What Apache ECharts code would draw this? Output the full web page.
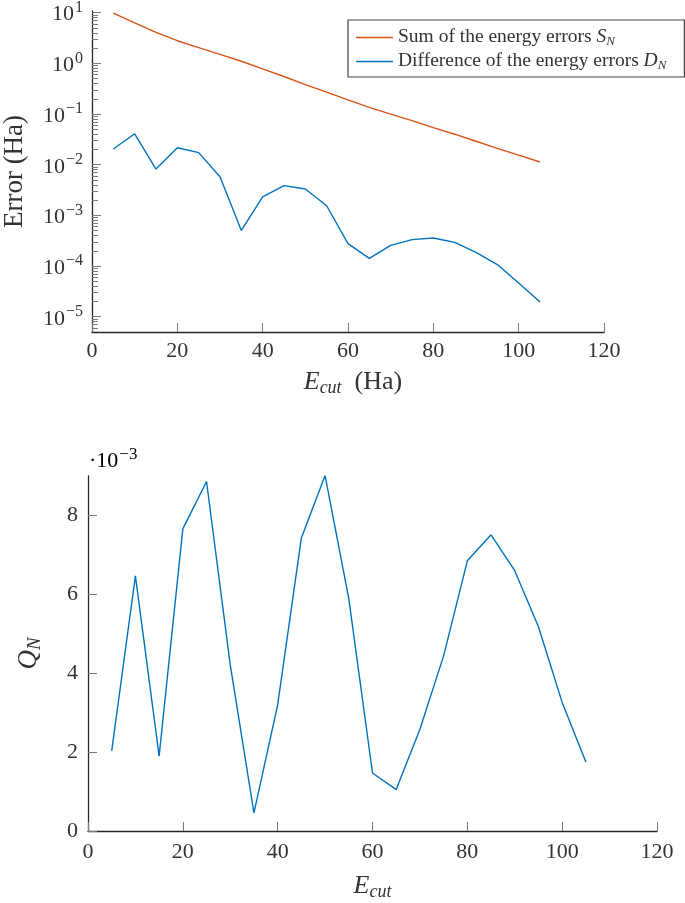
<!DOCTYPE html>
<html><head><meta charset="utf-8">
<script src="https://cdn.jsdelivr.net/npm/echarts@6/dist/echarts.min.js"></script>
<style>html,body{margin:0;padding:0;background:#fff}#c{width:685px;height:903px}</style>
</head><body><div id="c"></div>
<script>
// ---- data ----
const ecut = [5,10,15,20,25,30,35,40,45,50,55,60,65,70,75,80,85,90,95,100,105];
const sumErr = [9.8,6.3,4.1,2.8,2.05,1.5,1.1,0.78,0.55,0.38,0.27,0.19,0.135,0.10,0.074,0.054,0.040,0.029,0.021,0.0155,0.0113];
const diffErr = [0.0204,0.0408,0.0082,0.0216,0.0173,0.0058,0.000506,0.00231,0.00386,0.00332,0.00155,0.000277,0.000142,0.000256,0.000332,0.000358,0.000293,0.000186,0.000107,0.0000465,0.0000196];
const qN = [0.00203,0.00647,0.00190,0.00766,0.00886,0.00421,0.00046,0.00320,0.00743,0.00901,0.00589,0.00147,0.00105,0.00258,0.00444,0.00685,0.00751,0.00660,0.00518,0.00326,0.00175];
const logTicks = [1e-5,1e-4,1e-3,1e-2,1e-1,1,10];
const qTicks = [0,0.002,0.004,0.006,0.008];
const seriesNames = ['Sum of the energy errors S_N','Difference of the energy errors D_N'];

// ---- styling ----
const serif = 'Liberation Serif';
const txt = '#333333';
const orange = '#D95319', blue = '#0072BD';
const yMin = 5e-6, yMax = 10.8;
const minorTicks = [];
for (let e = -6; e <= 1; e++) {
  for (let m = 2; m <= 9; m++) {
    const v = m * Math.pow(10, e);
    if (v >= yMin && v <= yMax) minorTicks.push(v);
  }
}
const supRich = {
  b: {fontFamily: serif, fontSize: 22, color: txt, verticalAlign: 'bottom', padding: [4,0,0,0]},
  sup: {fontFamily: serif, fontSize: 16, color: txt, verticalAlign: 'top', padding: [0,0,0,1]}
};
const pair = (xs, ys) => xs.map((x, i) => [x, ys[i]]);
const axisLine = {show: true, lineStyle: {color: '#262626', width: 1.3}};
const tickStyle = {color: '#7a7a7a', width: 1};
const nameRich = {
  i: {fontFamily: serif, fontSize: 26, fontStyle: 'italic', color: txt, verticalAlign: 'top', lineHeight: 28},
  t: {fontFamily: serif, fontSize: 26, color: txt, verticalAlign: 'top', lineHeight: 28},
  s: {fontFamily: serif, fontSize: 18, fontStyle: 'italic', color: txt, verticalAlign: 'bottom', lineHeight: 18, padding: [14,0,0,0]}
};

const chart = echarts.init(document.getElementById('c'), null, {renderer: 'canvas'});
chart.setOption({
  animation: false,
  backgroundColor: '#fff',
  grid: [
    {left: 92, top: 11, width: 512, height: 321, outerBoundsMode: 'none', containLabel: false},
    {left: 88, top: 476, width: 569, height: 355, outerBoundsMode: 'none', containLabel: false}
  ],
  legend: {
    data: seriesNames,
    orient: 'vertical',
    left: 348, top: 20,
    padding: [5, 18, 5, 8],
    itemGap: 1,
    icon: 'rect',
    itemWidth: 37, itemHeight: 1.5,
    borderColor: '#444', borderWidth: 1.2,
    backgroundColor: '#fff',
    formatter: function (name) {
      const p = name.split(' ');
      const last = p.pop();
      return '{t|' + p.join(' ') + ' }{i|' + last[0] + '}{s|' + last.slice(2) + '}';
    },
    textStyle: {
      rich: {
        t: {fontFamily: serif, fontSize: 19.5, color: txt, verticalAlign: 'top', lineHeight: 21},
        i: {fontFamily: serif, fontSize: 19.5, fontStyle: 'italic', color: txt, verticalAlign: 'top', lineHeight: 21},
        s: {fontFamily: serif, fontSize: 13, fontStyle: 'italic', color: txt, verticalAlign: 'bottom', lineHeight: 13, padding: [10,0,0,0]}
      }
    }
  },
  xAxis: [
    {
      type: 'value', gridIndex: 0, min: 0, max: 120, interval: 20,
      axisLine: axisLine,
      axisTick: {show: true, inside: true, length: 9, lineStyle: tickStyle},
      axisLabel: {fontFamily: serif, fontSize: 22, color: txt, margin: 8},
      splitLine: {show: false},
      name: '{i|E}{s|cut}{t|  (Ha)}', nameLocation: 'middle', nameGap: 37,
      nameTextStyle: {rich: nameRich, padding: [0,0,0,10]}
    },
    {
      type: 'value', gridIndex: 1, min: 0, max: 120, interval: 20,
      axisLine: axisLine,
      axisTick: {show: true, inside: true, length: 9, lineStyle: tickStyle},
      axisLabel: {fontFamily: serif, fontSize: 22, color: txt, margin: 10},
      splitLine: {show: false},
      name: '{i|E}{s|cut}', nameLocation: 'middle', nameGap: 42,
      nameTextStyle: {rich: nameRich}
    }
  ],
  yAxis: [
    {
      type: 'log', gridIndex: 0, position: 'left', min: yMin, max: yMax, logBase: 10,
      axisLine: axisLine,
      axisTick: {show: true, inside: true, length: 9, lineStyle: tickStyle, customValues: logTicks},
      axisLabel: {
        customValues: logTicks, margin: 9,
        formatter: function (v) {
          const e = Math.round(Math.log10(v));
          return '{b|10}{sup|' + String(e).replace('-', '\u2212') + '}';
        },
        rich: supRich
      },
      splitLine: {show: false},
      minorTick: {show: false},
      name: 'Error (Ha)', nameLocation: 'middle', nameRotate: 90, nameGap: 64,
      nameTextStyle: {fontFamily: serif, fontSize: 27, color: txt}
    },
    {
      type: 'log', gridIndex: 0, position: 'left', offset: 0, min: yMin, max: yMax, logBase: 10,
      axisLine: {show: false},
      axisTick: {show: true, inside: true, length: 6, lineStyle: tickStyle, customValues: minorTicks},
      axisLabel: {show: false},
      splitLine: {show: false}
    },
    {
      type: 'value', gridIndex: 1, min: 0, max: 0.009,
      axisLine: axisLine,
      axisTick: {show: true, inside: true, length: 9, lineStyle: tickStyle, customValues: qTicks},
      axisLabel: {
        customValues: qTicks, margin: 10,
        fontFamily: serif, fontSize: 22, color: txt,
        formatter: function (v) { return String(Math.round(v * 1000)); }
      },
      splitLine: {show: false},
      name: '{i|Q}{s|N}', nameLocation: 'middle', nameRotate: 90, nameGap: 44,
      nameTextStyle: {rich: {
        i: {fontFamily: serif, fontSize: 27, fontStyle: 'italic', color: txt, verticalAlign: 'top', lineHeight: 29},
        s: {fontFamily: serif, fontSize: 19, fontStyle: 'italic', color: txt, verticalAlign: 'bottom', lineHeight: 19, padding: [14,0,0,0]}
      }}
    }
  ],
  graphic: [{
    type: 'text', left: 89, top: 446,
    style: {
      text: '{d|\u00b7}{b|10}{sup|\u22123}',
      rich: {
        d: {fontFamily: serif, fontSize: 22, color: txt, verticalAlign: 'bottom', padding: [4,0,0,0]},
        b: supRich.b,
        sup: {fontFamily: serif, fontSize: 17, color: txt, verticalAlign: 'top', padding: [0,0,0,1]}
      }
    }
  }],
  series: [
    {
      name: seriesNames[0], type: 'line', xAxisIndex: 0, yAxisIndex: 0,
      data: pair(ecut, sumErr), symbol: 'none', showSymbol: false,
      lineStyle: {color: orange, width: 1.4}, itemStyle: {color: orange}
    },
    {
      name: seriesNames[1], type: 'line', xAxisIndex: 0, yAxisIndex: 0,
      data: pair(ecut, diffErr), symbol: 'none', showSymbol: false,
      lineStyle: {color: blue, width: 1.4}, itemStyle: {color: blue}
    },
    {
      name: 'Q_N', type: 'line', xAxisIndex: 1, yAxisIndex: 2,
      data: pair(ecut, qN), symbol: 'none', showSymbol: false,
      lineStyle: {color: blue, width: 1.4}, itemStyle: {color: blue}
    }
  ]
});
</script>
</body></html>
